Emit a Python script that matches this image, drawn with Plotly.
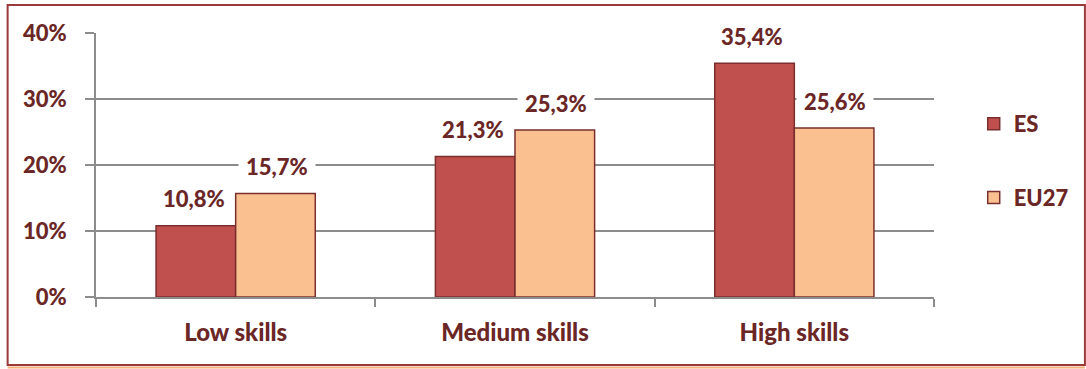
import plotly.graph_objects as go

categories = ["Low skills", "Medium skills", "High skills"]
es_values = [10.8, 21.3, 35.4]
eu27_values = [15.7, 25.3, 25.6]
series_names = ["ES", "EU27"]
y_ticks = [0, 10, 20, 30, 40]
y_tick_labels = ["0%", "10%", "20%", "30%", "40%"]

TEXT = "#6b2626"
OUTLINE = "#7a2e2e"
GRID = "#8c8c8c"
FONT = "Lato"
WEIGHT = 900

L, R, T, B = 96, 146, 33, 72
W, H = 1086, 369
PW, PH = W - L - R, H - T - B

fig = go.Figure()
fig.add_trace(go.Bar(x=categories, y=es_values, name=series_names[0],
                     marker=dict(color="#C0504D", line=dict(color=OUTLINE, width=1.5)),
                     legendgroup="a"))
fig.add_trace(go.Bar(x=categories, y=eu27_values, name=series_names[1],
                     marker=dict(color="#FAC090", line=dict(color=OUTLINE, width=1.5)),
                     legendgroup="b"))

def fmt(v):
    return f"{v:.1f}".replace(".", ",") + "%"

for vals, xs in ((es_values, -42), (eu27_values, 41)):
    for c, v in zip(categories, vals):
        fig.add_annotation(x=c, y=v, xref="x", yref="y", text=fmt(v), showarrow=False,
                           xshift=xs, yshift=27, yanchor="middle",
                           bgcolor="white", borderpad=7,
                           font=dict(family=FONT, size=22, color=TEXT, weight=WEIGHT))

def px(x):
    return (x - L) / PW

def py(y):
    return (H - B - y) / PH

# outer chart border
fig.add_shape(type="rect", xref="paper", yref="paper",
              x0=px(7), x1=px(1092), y0=py(365), y1=py(5),
              line=dict(color="#9b3a3a", width=2), fillcolor="rgba(0,0,0,0)", layer="above")
fig.add_shape(type="line", xref="paper", yref="paper",
              x0=px(7), x1=px(1092), y0=py(367.5), y1=py(367.5),
              line=dict(color="#f4b07a", width=2))

fig.update_layout(
    width=W, height=H,
    margin=dict(l=L, r=R, t=T, b=B),
    paper_bgcolor="white", plot_bgcolor="white",
    barmode="group", bargap=0.43, bargroupgap=0,
    font=dict(family=FONT, color=TEXT),
    showlegend=True,
    legend=dict(x=px(980), xanchor="left", y=py(161), yanchor="middle",
                font=dict(family=FONT, size=22, color=TEXT, weight=WEIGHT),
                tracegroupgap=42, bgcolor="rgba(0,0,0,0)"),
    xaxis=dict(showline=True, linecolor=GRID, linewidth=2, ticks="outside",
               tickson="boundaries", ticklen=8, tickwidth=2, tickcolor=GRID,
               tickfont=dict(family=FONT, size=24, color=TEXT, weight=WEIGHT),
               ticklabelstandoff=13, showgrid=False),
    yaxis=dict(range=[0, 40], tickvals=y_ticks, ticktext=y_tick_labels,
               showline=True, linecolor=GRID, linewidth=2, ticks="outside",
               ticklen=9, tickwidth=2, tickcolor=GRID,
               showgrid=True, gridcolor=GRID, gridwidth=2, zeroline=False,
               tickfont=dict(family=FONT, size=22, color=TEXT, weight=WEIGHT),
               ticklabelstandoff=14),
)

fig.write_html("out.html")
